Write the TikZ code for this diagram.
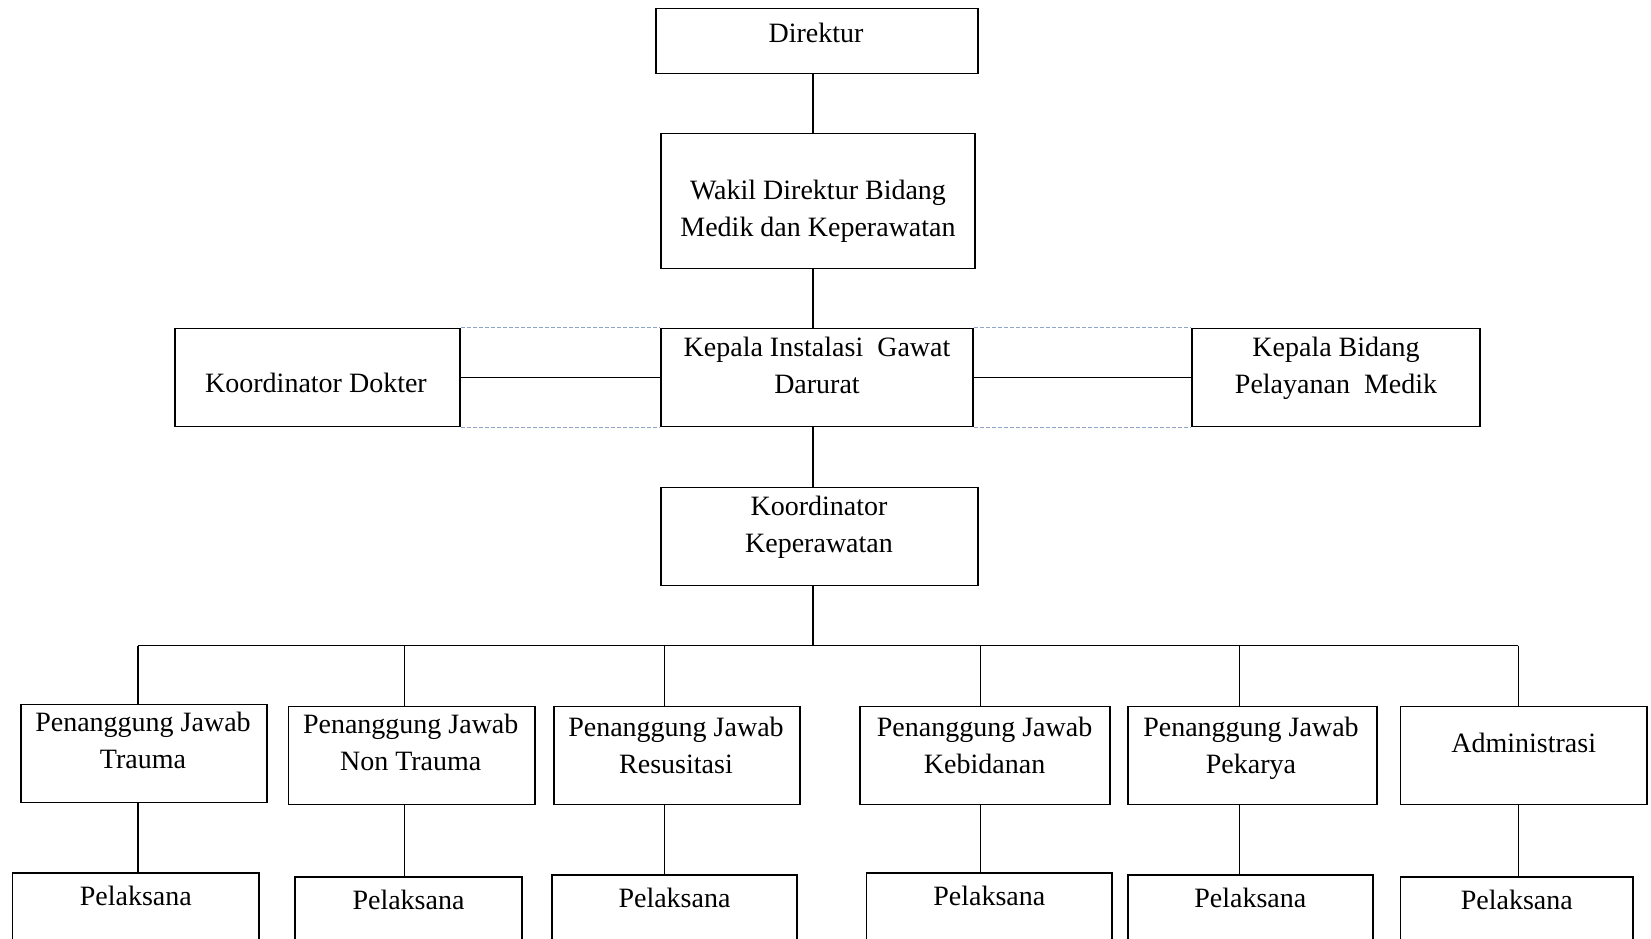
\documentclass[tikz,border=0pt]{standalone}
\usepackage{fontspec}
\setmainfont{Liberation Serif}
\usetikzlibrary{calc}
\definecolor{guideblue}{RGB}{143,165,200}

\begin{document}
\begin{tikzpicture}[x=1pt, y=-1pt,
        box/.style={draw, line width=1.6pt, inner sep=0pt},
        txt/.style={align=center, inner sep=0pt, font=\fontsize{28}{37}\selectfont},
        link/.style={line width=1.6pt},
        guide/.style={draw=guideblue, line width=1.1pt, dash pattern=on 4pt off 2pt}]
        \clip (0,0) rectangle (1651,939);

        % upper chain
        \node[box, minimum width=322pt, minimum height=65pt] (dir) at (817,41) {};
        \node[box, minimum width=314pt, minimum height=135pt] (wakil) at (818,201) {};
        \node[box, minimum width=312pt, minimum height=98pt] (kig) at (817,377.5) {};
        \node[box, minimum width=285pt, minimum height=98pt] (kdok) at (317.5,377.5) {};
        \node[box, minimum width=287.5pt, minimum height=98pt] (kbid) at (1336,377.5) {};
        \node[box, minimum width=317pt, minimum height=98pt] (kkep) at (819.5,536.5) {};

        \node[txt] (dir-t) at (816,32.6) {Direktur};
        \node[txt] (wakil-t) at (818,211) {Wakil Direktur Bidang\\Medik dan Keperawatan};
        \node[txt] (kig-t) at (817,365) {Kepala Instalasi \ Gawat\\Darurat};
        \node[txt] (kdok-t) at (316,383) {Koordinator Dokter};
        \node[txt] (kbid-t) at (1336,368) {Kepala Bidang\\Pelayanan \ Medik};
        \node[txt] (kkep-t) at (819,527) {Koordinator\\Keperawatan};

        % penanggung jawab row
        \foreach \n/\cx/\w/\cy in {1/144/246.5/753.5, 2/411.8/246.5/755.5, 3/677/246.3/755.5,
                4/985/249.6/755.5, 5/1252.5/249.5/755.5, 6/1523.7/246.4/755.5}
          \node[box, minimum width=\w pt, minimum height=98pt] (pj\n) at (\cx,\cy) {};

        \node[txt] (pj1-t) at (143,740) {Penanggung Jawab\\Trauma};
        \node[txt] (pj2-t) at (410.7,742) {Penanggung Jawab\\Non Trauma};
        \node[txt] (pj3-t) at (676,745) {Penanggung Jawab\\Resusitasi};
        \node[txt] (pj4-t) at (984.6,745) {Penanggung Jawab\\Kebidanan};
        \node[txt] (pj5-t) at (1251,748) {Penanggung Jawab\\Pekarya};
        \node[txt] (pj6-t) at (1523.7,743) {Administrasi};

        % pelaksana row
        \foreach \n/\cx/\w/\cy in {1/135.8/246.4/922, 2/408.5/227.5/926, 3/674.5/245.3/924,
                4/989.3/245.4/922, 5/1250.3/245/924, 6/1516.8/232.7/926}{
          \node[box, minimum width=\w pt, minimum height=98pt] (pl\n) at (\cx,\cy) {};
          \node[txt] (pl\n-t) at ($(pl\n.north)+(0,24)$) {Pelaksana};
        }

        % connectors
        \coordinate (spine) at (813,0);
        \coordinate (bus) at (813,645.5);
        \draw[link] (dir.south -| spine) -- (wakil.north -| spine);
        \draw[link] (wakil.south -| spine) -- (kig.north -| spine);
        \draw[link] (kig.south -| spine) -- (kkep.north -| spine);
        \draw[link] (kkep.south -| spine) -- (bus);
        \draw[link] (kdok.east) -- (kig.west);
        \draw[link] (kig.east) -- (kbid.west);
        \draw[guide] (kdok.north east) -- (kig.north west) (kdok.south east) -- (kig.south west)
                (kig.north east) -- (kbid.north west) (kig.south east) -- (kbid.south west);

        \foreach \n/\dx in {1/138, 2/404.4, 3/664.4, 4/980.3, 5/1239.4, 6/1518.4}{
          \coordinate (drop\n) at (\dx,645.5);
          \draw[link] (drop\n) -- (drop\n |- pj\n.north);
          \draw[link] (drop\n |- pj\n.south) -- (drop\n |- pl\n.north);
        }
        \draw[link] (drop1) -- (drop6);
\end{tikzpicture}
\end{document}
